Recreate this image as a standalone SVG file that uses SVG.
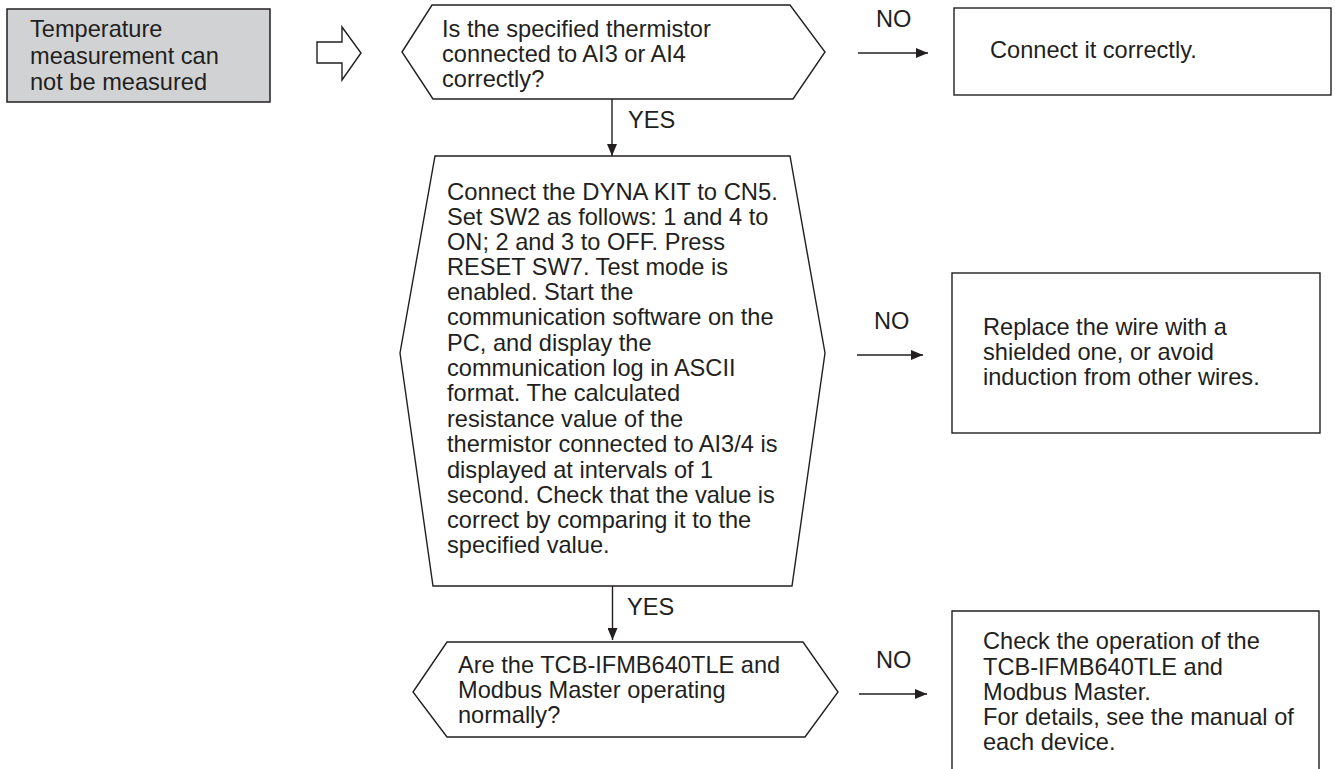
<svg xmlns="http://www.w3.org/2000/svg" width="1335" height="769" viewBox="0 0 1335 769">
<style>
text{font-family:"Liberation Sans",Arial,sans-serif;font-size:23.6px;fill:#231f20}
.s{fill:#fff;stroke:#231f20;stroke-width:1.4}
.g{fill:#d1d2d4;stroke:#231f20;stroke-width:1.5}
.c{stroke:#231f20;stroke-width:1.4;fill:none}
</style>
<defs>
<marker id="ah" markerWidth="12" markerHeight="10" refX="12" refY="5" orient="auto" markerUnits="userSpaceOnUse">
<path d="M0,0 L12,5 L0,10 Z" fill="#231f20"/>
</marker>
</defs>
<rect width="1335" height="769" fill="#fff"/>
<g id="start">
<rect class="g" x="7" y="9" width="263" height="93"/>
<text x="30" y="37">Temperature</text>
<text x="30" y="64">measurement can</text>
<text x="30" y="90">not be measured</text>
</g>
<g id="bigarrow">
<path class="s" d="M317,42 L342,42 L342,27 L361,53 L342,80 L342,63 L317,63 Z"/>
</g>
<g id="q1">
<path class="s" d="M402,52 L432,5 L790,5 L825,52 L793,99 L433,99 Z"/>
<text x="442" y="37">Is the specified thermistor</text>
<text x="442" y="62">connected to AI3 or AI4</text>
<text x="442" y="87">correctly?</text>
</g>
<g id="a1">
<rect class="s" x="954" y="8" width="377" height="87"/>
<text x="990" y="58">Connect it correctly.</text>
</g>
<g id="q2">
<path class="s" d="M400,353 L435,156 L790,156 L825,353 L792,586 L433,586 Z"/>
<text x="447" y="200" textLength="331" lengthAdjust="spacingAndGlyphs">Connect the DYNA KIT to CN5.</text>
<text x="447" y="225">Set SW2 as follows: 1 and 4 to</text>
<text x="447" y="250">ON; 2 and 3 to OFF. Press</text>
<text x="447" y="275">RESET SW7. Test mode is</text>
<text x="447" y="300">enabled. Start the</text>
<text x="447" y="325">communication software on the</text>
<text x="447" y="351">PC, and display the</text>
<text x="447" y="376">communication log in ASCII</text>
<text x="447" y="401">format. The calculated</text>
<text x="447" y="427">resistance value of the</text>
<text x="447" y="452">thermistor connected to AI3/4 is</text>
<text x="447" y="478">displayed at intervals of 1</text>
<text x="447" y="503">second. Check that the value is</text>
<text x="447" y="528">correct by comparing it to the</text>
<text x="447" y="553">specified value.</text>
</g>
<g id="a2">
<rect class="s" x="952" y="273" width="368" height="160"/>
<text x="983" y="335">Replace the wire with a</text>
<text x="983" y="360">shielded one, or avoid</text>
<text x="983" y="385">induction from other wires.</text>
</g>
<g id="q3">
<path class="s" d="M413,692 L447,642 L803,642 L838,692 L805,737 L447,737 Z"/>
<text x="458" y="673">Are the TCB-IFMB640TLE and</text>
<text x="458" y="698">Modbus Master operating</text>
<text x="458" y="723">normally?</text>
</g>
<g id="a3">
<path class="s" d="M952,775 L952,611 L1319,611 L1319,775"/>
<text x="983" y="649">Check the operation of the</text>
<text x="983" y="675">TCB-IFMB640TLE and</text>
<text x="983" y="700">Modbus Master.</text>
<text x="983" y="725">For details, see the manual of</text>
<text x="983" y="750">each device.</text>
</g>
<g id="connectors">
<line class="c" x1="612" y1="99" x2="612" y2="156" marker-end="url(#ah)"/>
<text x="628" y="128">YES</text>
<line class="c" x1="612.5" y1="586" x2="612.5" y2="640" marker-end="url(#ah)"/>
<text x="627" y="615">YES</text>
<line class="c" x1="858" y1="53" x2="928" y2="53" marker-end="url(#ah)"/>
<text x="876" y="27">NO</text>
<line class="c" x1="857" y1="355" x2="923" y2="355" marker-end="url(#ah)"/>
<text x="874" y="329">NO</text>
<line class="c" x1="859" y1="694" x2="927" y2="694" marker-end="url(#ah)"/>
<text x="876" y="668">NO</text>
</g>
</svg>
